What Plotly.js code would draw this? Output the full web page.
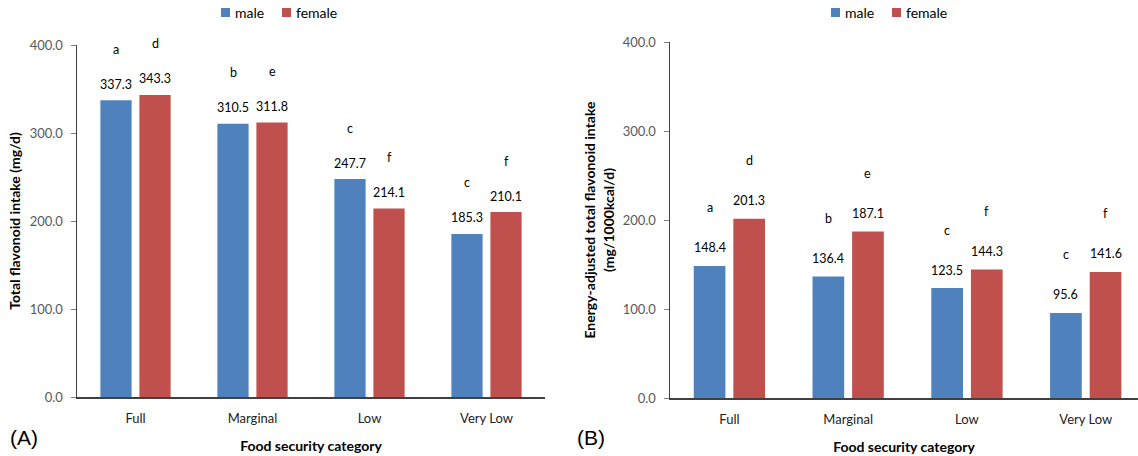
<!DOCTYPE html>
<html><head><meta charset="utf-8">
<script src="https://cdn.plot.ly/plotly-3.0.1.min.js"></script>
<style>html,body{margin:0;padding:0;background:#fff}#chart{width:1138px;height:456px}</style>
</head><body><div id="chart"></div>
<script>
const categories = ["Full", "Marginal", "Low", "Very Low"];
const maleTotal = [337.3, 310.5, 247.7, 185.3];
const femaleTotal = [343.3, 311.8, 214.1, 210.1];
const maleLettersA = ["a", "b", "c", "c"];
const femaleLettersA = ["d", "e", "f", "f"];
const maleAdjusted = [148.4, 136.4, 123.5, 95.6];
const femaleAdjusted = [201.3, 187.1, 144.3, 141.6];
const maleLettersB = ["a", "b", "c", "c"];
const femaleLettersB = ["d", "e", "f", "f"];
const yTicks = [0, 100, 200, 300, 400];
const seriesNames = ["male", "female"];

const MALE = "#4F81BD", FEMALE = "#C0504D";
const FONT = "Lato, 'Open Sans', sans-serif";

function bar(name, y, color, xa, ya) {
  return {type: "bar", name: name, x: categories, y: y, xaxis: xa, yaxis: ya,
    marker: {color: color, line: {width: 0}}, showlegend: false, hoverinfo: "skip", cliponaxis: false};
}
const data = [
  bar(seriesNames[0], maleTotal, MALE, "x", "y"),
  bar(seriesNames[1], femaleTotal, FEMALE, "x", "y"),
  bar(seriesNames[0], maleAdjusted, MALE, "x2", "y2"),
  bar(seriesNames[1], femaleAdjusted, FEMALE, "x2", "y2")
];

const annotations = [];
const LBL = {family: FONT, size: 12.5, color: "#000"};
function labels(vals, letters, xref, yref, shiftX, valShift, letterShift) {
  vals.forEach((v, i) => {
    annotations.push({x: categories[i], y: v, xref: xref, yref: yref, text: v.toFixed(1),
      showarrow: false, xshift: shiftX, yshift: valShift, yanchor: "middle", font: LBL});
    annotations.push({x: categories[i], y: v, xref: xref, yref: yref, text: letters[i],
      showarrow: false, xshift: shiftX, yshift: letterShift, yanchor: "middle", font: LBL});
  });
}
labels(maleTotal, maleLettersA, "x", "y", -19.5, 16, 51);
labels(femaleTotal, femaleLettersA, "x", "y", 19.5, 16, 51);
labels(maleAdjusted, maleLettersB, "x2", "y2", -19.8, 18, 58);
labels(femaleAdjusted, femaleLettersB, "x2", "y2", 19.8, 18, 58);

const PANEL = {family: "'Liberation Sans', Arial, sans-serif", size: 21, color: "#000"};
annotations.push({xref: "paper", yref: "paper", x: 8/1138, y: 1 - 437/456, xanchor: "left", yanchor: "middle",
  text: "(A)", showarrow: false, font: PANEL});
annotations.push({xref: "paper", yref: "paper", x: 575/1138, y: 1 - 437/456, xanchor: "left", yanchor: "middle",
  text: "(B)", showarrow: false, font: PANEL});

// legends
const shapes = [];
const LEG = {family: FONT, size: 14, color: "#000"};
function legend(x0) {
  shapes.push({type: "rect", xref: "paper", yref: "paper", x0: x0/1138, x1: (x0+9)/1138,
    y0: 1 - 17/456, y1: 1 - 8/456, fillcolor: MALE, line: {width: 0}});
  annotations.push({xref: "paper", yref: "paper", x: (x0+12)/1138, y: 1 - 12.5/456, xanchor: "left", yanchor: "middle",
    text: seriesNames[0], showarrow: false, font: LEG});
  shapes.push({type: "rect", xref: "paper", yref: "paper", x0: (x0+61)/1138, x1: (x0+70)/1138,
    y0: 1 - 17/456, y1: 1 - 8/456, fillcolor: FEMALE, line: {width: 0}});
  annotations.push({xref: "paper", yref: "paper", x: (x0+73)/1138, y: 1 - 12.5/456, xanchor: "left", yanchor: "middle",
    text: seriesNames[1], showarrow: false, font: LEG});
}
legend(221);
legend(831);

const xBase = {type: "category", showline: true, linecolor: "#404040", linewidth: 1.5, ticks: "",
  showgrid: false, zeroline: false, fixedrange: true, ticklabelstandoff: 9,
  tickfont: {family: FONT, size: 13, color: "#222"},
  title: {text: "<b>Food security category</b>", font: {family: FONT, size: 14, color: "#000"}, standoff: 16}};
const yBase = {range: [0, 400], tickvals: yTicks, tickformat: ".1f", showline: true, linecolor: "#404040",
  linewidth: 1.5, ticks: "outside", ticklen: 5, tickcolor: "#808080", showgrid: false, zeroline: false,
  fixedrange: true, ticklabelstandoff: 5, tickfont: {family: FONT, size: 13, color: "#595959"}};

const layout = {
  width: 1138, height: 456, margin: {l: 0, r: 0, t: 0, b: 0},
  paper_bgcolor: "#fff", plot_bgcolor: "#fff",
  barmode: "group", bargap: 0.333, bargroupgap: 0.2,
  xaxis: Object.assign({}, xBase, {domain: [77/1138, 545/1138], anchor: "y"}),
  yaxis: Object.assign({}, yBase, {domain: [59/456, 411/456], anchor: "x",
    title: {text: "<b>Total flavonoid intake (mg/d)</b>", font: {family: FONT, size: 14, color: "#000"}, standoff: 6}}),
  xaxis2: Object.assign({}, xBase, {domain: [670/1138, 1], anchor: "y2", range: [-0.5, 3.44]}),
  yaxis2: Object.assign({}, yBase, {domain: [58/456, 414/456], anchor: "x2",
    title: {text: "<b>Energy-adjusted total flavonoid intake<br>(mg/1000kcal/d)</b>", font: {family: FONT, size: 14, color: "#000"}, standoff: 5}}),
  showlegend: false,
  shapes: shapes,
  annotations: annotations
};
Plotly.newPlot("chart", data, layout, {displayModeBar: false, staticPlot: true});
</script></body></html>
